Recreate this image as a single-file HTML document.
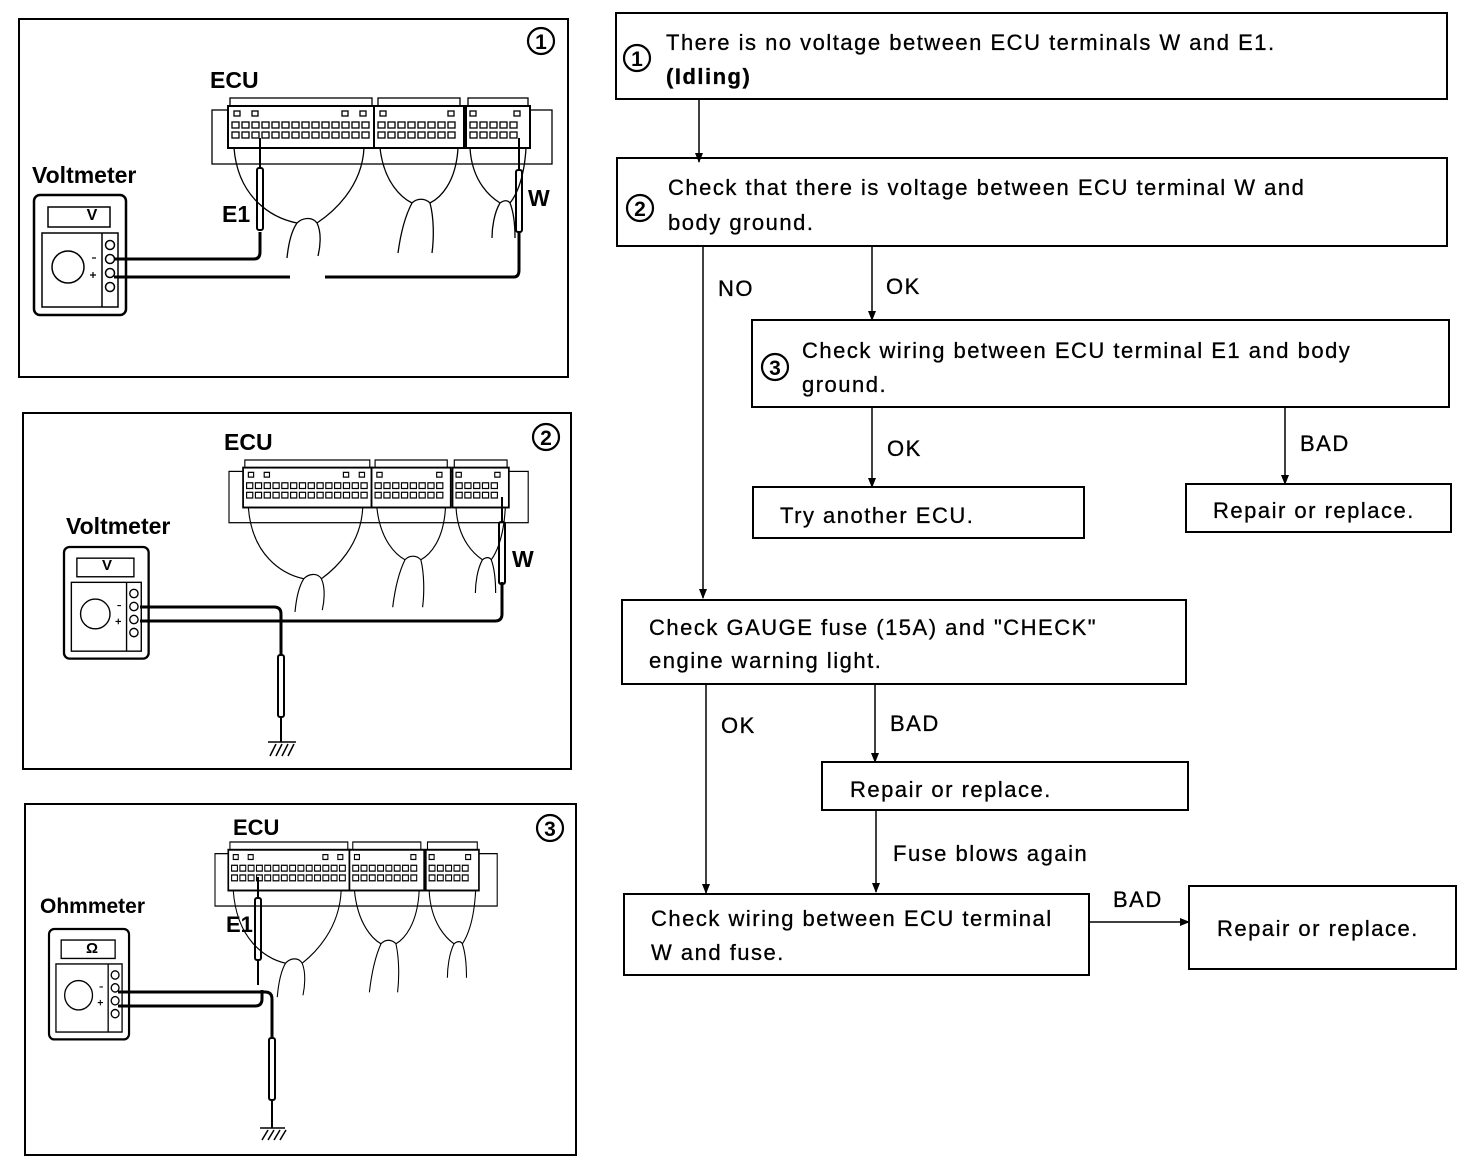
<!DOCTYPE html>
<html><head><meta charset="utf-8"><style>
html,body{margin:0;padding:0;background:#fff}
svg{display:block}
text{font-family:"Liberation Sans",sans-serif;fill:#000}
.t{font-size:22px;letter-spacing:1.5px;stroke:#000;stroke-width:0.3}
</style></head><body>
<svg width="1472" height="1172" viewBox="0 0 1472 1172" xmlns="http://www.w3.org/2000/svg">
<defs>
<marker id="ar" markerWidth="10" markerHeight="10" refX="9" refY="5" orient="auto" markerUnits="userSpaceOnUse">
<path d="M0,1 L10,5 L0,9 Z" fill="#000"/></marker>
<g id="pins">
<rect x="0" y="0" width="7" height="6" fill="none" stroke="#000" stroke-width="1.3"/>
</g>
<g id="ecu" fill="none" stroke="#000" stroke-width="1.3">
<rect x="0" y="12" width="340" height="54"/>
<rect x="18" y="0" width="142" height="8"/>
<rect x="166" y="0" width="82" height="8"/>
<rect x="256" y="0" width="60" height="8"/>
<rect x="16" y="8" width="146" height="42" fill="#fff" stroke-width="2"/>
<rect x="162" y="8" width="90" height="42" fill="#fff" stroke-width="2"/>
<rect x="254" y="8" width="64" height="42" fill="#fff" stroke-width="2"/>
<g>
<use href="#pins" x="20" y="24"/><use href="#pins" x="30" y="24"/><use href="#pins" x="40" y="24"/><use href="#pins" x="50" y="24"/><use href="#pins" x="60" y="24"/><use href="#pins" x="70" y="24"/><use href="#pins" x="80" y="24"/><use href="#pins" x="90" y="24"/><use href="#pins" x="100" y="24"/><use href="#pins" x="110" y="24"/><use href="#pins" x="120" y="24"/><use href="#pins" x="130" y="24"/><use href="#pins" x="140" y="24"/><use href="#pins" x="150" y="24"/>
<use href="#pins" x="20" y="34"/><use href="#pins" x="30" y="34"/><use href="#pins" x="40" y="34"/><use href="#pins" x="50" y="34"/><use href="#pins" x="60" y="34"/><use href="#pins" x="70" y="34"/><use href="#pins" x="80" y="34"/><use href="#pins" x="90" y="34"/><use href="#pins" x="100" y="34"/><use href="#pins" x="110" y="34"/><use href="#pins" x="120" y="34"/><use href="#pins" x="130" y="34"/><use href="#pins" x="140" y="34"/><use href="#pins" x="150" y="34"/>
<use href="#pins" x="166" y="24"/><use href="#pins" x="176" y="24"/><use href="#pins" x="186" y="24"/><use href="#pins" x="196" y="24"/><use href="#pins" x="206" y="24"/><use href="#pins" x="216" y="24"/><use href="#pins" x="226" y="24"/><use href="#pins" x="236" y="24"/>
<use href="#pins" x="166" y="34"/><use href="#pins" x="176" y="34"/><use href="#pins" x="186" y="34"/><use href="#pins" x="196" y="34"/><use href="#pins" x="206" y="34"/><use href="#pins" x="216" y="34"/><use href="#pins" x="226" y="34"/><use href="#pins" x="236" y="34"/>
<use href="#pins" x="258" y="24"/><use href="#pins" x="268" y="24"/><use href="#pins" x="278" y="24"/><use href="#pins" x="288" y="24"/><use href="#pins" x="298" y="24"/>
<use href="#pins" x="258" y="34"/><use href="#pins" x="268" y="34"/><use href="#pins" x="278" y="34"/><use href="#pins" x="288" y="34"/><use href="#pins" x="298" y="34"/>
<rect x="22" y="13" width="6" height="5"/><rect x="40" y="13" width="6" height="5"/><rect x="130" y="13" width="6" height="5"/><rect x="148" y="13" width="6" height="5"/>
<rect x="168" y="13" width="6" height="5"/><rect x="236" y="13" width="6" height="5"/><rect x="258" y="13" width="6" height="5"/><rect x="302" y="13" width="6" height="5"/>
</g>
<path d="M22,50 C26,100 60,120 85,125 M152,50 C150,90 120,115 105,125"/>
<path d="M168,50 C172,85 190,100 200,105 M246,50 C244,85 228,100 218,105"/>
<path d="M258,50 C260,85 280,100 288,105 M314,50 C312,85 302,100 298,105"/>
<path d="M85,125 C78,135 76,150 75,160 M105,125 C110,135 108,150 106,158"/>
<path d="M200,105 C192,120 188,140 186,155 M218,105 C222,120 222,140 220,155"/>
<path d="M288,105 C282,115 280,130 280,140 M298,105 C302,115 303,130 303,140"/>
<path d="M85,125 C90,120 100,118 105,125 M200,105 C205,100 213,100 218,105 M288,105 C292,102 296,102 298,105"/>
</g>
<g id="meter" fill="none" stroke="#000">
<rect x="0" y="0" width="92" height="120" rx="6" stroke-width="2.5"/>
<rect x="14" y="12" width="62" height="20" stroke-width="1.5"/>
<rect x="8" y="38" width="76" height="74" stroke-width="1.5"/>
<line x1="68" y1="38" x2="68" y2="112" stroke-width="1.5"/>
<circle cx="34" cy="72" r="16" stroke-width="1.5"/>
<circle cx="76" cy="50" r="4.5" stroke-width="1.5"/><circle cx="76" cy="64" r="4.5" stroke-width="1.5"/><circle cx="76" cy="78" r="4.5" stroke-width="1.5"/><circle cx="76" cy="92" r="4.5" stroke-width="1.5"/>
<line x1="58" y1="63" x2="62" y2="63" stroke-width="1.2"/>
<path d="M56,80 h6 M59,77 v6" stroke-width="1.2"/>
</g>
<g id="probe" fill="none" stroke="#000" stroke-width="2">
<rect x="-3" y="0" width="6" height="62" rx="2"/>
</g>
</defs>

<!-- Panel 1 -->
<rect x="19" y="19" width="549" height="358" fill="none" stroke="#000" stroke-width="2"/>
<circle cx="541" cy="41" r="13" fill="none" stroke="#000" stroke-width="2.2"/>
<text x="541" y="49" font-size="21" font-weight="bold" text-anchor="middle">1</text>
<text x="210" y="88" font-size="23" font-weight="bold">ECU</text>
<use href="#ecu" transform="translate(212,98)"/>
<text x="32" y="183" font-size="23" font-weight="bold">Voltmeter</text>
<use href="#meter" transform="translate(34,195)"/>
<text x="92" y="220" font-size="16" font-weight="bold" text-anchor="middle">V</text>
<line x1="260" y1="138" x2="260" y2="168" stroke="#000" stroke-width="2"/>
<use href="#probe" transform="translate(260,168)"/>
<text x="222" y="222" font-size="23" font-weight="bold">E1</text>
<path d="M114,259 H254 Q260,259 260,252 V232" fill="none" stroke="#000" stroke-width="3"/>
<path d="M114,277 H290 M325,277 H514 Q519,277 519,270 V232" fill="none" stroke="#000" stroke-width="3"/>
<line x1="519" y1="138" x2="519" y2="170" stroke="#000" stroke-width="2"/>
<use href="#probe" transform="translate(519,170)"/>
<text x="528" y="206" font-size="23" font-weight="bold">W</text>

<!-- Panel 2 -->
<rect x="23" y="413" width="548" height="356" fill="none" stroke="#000" stroke-width="2"/>
<circle cx="546" cy="437" r="13" fill="none" stroke="#000" stroke-width="2.2"/>
<text x="546" y="445" font-size="21" font-weight="bold" text-anchor="middle">2</text>
<text x="224" y="450" font-size="23" font-weight="bold">ECU</text>
<use href="#ecu" transform="translate(229,460) scale(0.88,0.95)"/>
<text x="66" y="534" font-size="23" font-weight="bold">Voltmeter</text>
<use href="#meter" transform="translate(64,547) scale(0.92,0.93)"/>
<text x="107" y="570" font-size="15" font-weight="bold" text-anchor="middle">V</text>
<path d="M140,607 H274 Q281,607 281,614 V655" fill="none" stroke="#000" stroke-width="3"/>
<use href="#probe" transform="translate(281,655)"/>
<path d="M281,717 V742" stroke="#000" stroke-width="2"/>
<path d="M268,742 H296 M270,756 L276,744 M276,756 L282,744 M282,756 L288,744 M288,756 L294,744" stroke="#000" stroke-width="1.5"/>
<path d="M140,621 H495 Q502,621 502,614 V582" fill="none" stroke="#000" stroke-width="3"/>
<line x1="502" y1="497" x2="502" y2="522" stroke="#000" stroke-width="2"/>
<use href="#probe" transform="translate(502,522)"/>
<text x="512" y="567" font-size="23" font-weight="bold">W</text>

<!-- Panel 3 -->
<rect x="25" y="804" width="551" height="351" fill="none" stroke="#000" stroke-width="2"/>
<circle cx="550" cy="828" r="13" fill="none" stroke="#000" stroke-width="2.2"/>
<text x="550" y="836" font-size="21" font-weight="bold" text-anchor="middle">3</text>
<text x="233" y="835" font-size="22" font-weight="bold">ECU</text>
<use href="#ecu" transform="translate(215,842) scale(0.83,0.97)"/>
<text x="40" y="913" font-size="21" font-weight="bold">Ohmmeter</text>
<use href="#meter" transform="translate(49,929) scale(0.87,0.92)"/>
<text x="92" y="953" font-size="15" font-weight="bold" text-anchor="middle">Ω</text>
<line x1="258" y1="877" x2="258" y2="898" stroke="#000" stroke-width="2"/>
<use href="#probe" transform="translate(258,898)"/>
<text x="226" y="932" font-size="22" font-weight="bold">E1</text>
<path d="M258,960 V985" stroke="#000" stroke-width="2"/>
<path d="M118,992 H265 Q272,992 272,999 V1038" fill="none" stroke="#000" stroke-width="3"/>
<path d="M118,1006 H255 Q262,1006 262,999 V990" fill="none" stroke="#000" stroke-width="3"/>
<use href="#probe" transform="translate(272,1038)"/>
<path d="M272,1100 V1128" stroke="#000" stroke-width="2"/>
<path d="M260,1128 H285 M262,1140 L268,1130 M268,1140 L274,1130 M274,1140 L280,1130 M280,1140 L286,1130" stroke="#000" stroke-width="1.5"/>

<!-- Flowchart -->
<g fill="none" stroke="#000" stroke-width="2">
<rect x="616" y="13" width="831" height="86"/>
<rect x="617" y="158" width="830" height="88"/>
<rect x="752" y="320" width="697" height="87"/>
<rect x="753" y="487" width="331" height="51"/>
<rect x="1186" y="484" width="265" height="48"/>
<rect x="622" y="600" width="564" height="84"/>
<rect x="822" y="762" width="366" height="48"/>
<rect x="624" y="894" width="465" height="81"/>
<rect x="1189" y="886" width="267" height="83"/>
<circle cx="637" cy="58" r="13" stroke-width="2.2"/><circle cx="640" cy="208" r="13" stroke-width="2.2"/><circle cx="775" cy="367" r="13" stroke-width="2.2"/>
</g>
<g stroke="#000" stroke-width="1.5" fill="none" marker-end="url(#ar)">
<line x1="699" y1="99" x2="699" y2="162"/>
<line x1="703" y1="246" x2="703" y2="598"/>
<line x1="872" y1="246" x2="872" y2="320"/>
<line x1="872" y1="407" x2="872" y2="487"/>
<line x1="1285" y1="407" x2="1285" y2="484"/>
<line x1="706" y1="684" x2="706" y2="893"/>
<line x1="875" y1="684" x2="875" y2="762"/>
<line x1="876" y1="810" x2="876" y2="892"/>
<line x1="1089" y1="922" x2="1189" y2="922"/>
</g>
<text x="637" y="66" font-size="21" font-weight="bold" text-anchor="middle">1</text>
<text x="640" y="216" font-size="21" font-weight="bold" text-anchor="middle">2</text>
<text x="775" y="375" font-size="21" font-weight="bold" text-anchor="middle">3</text>
<text class="t" x="666" y="50">There is no voltage between ECU terminals W and E1.</text>
<text class="t" x="666" y="84" font-weight="bold">(Idling)</text>
<text class="t" x="668" y="195">Check that there is voltage between ECU terminal W and</text>
<text class="t" x="668" y="230">body ground.</text>
<text class="t" x="718" y="296">NO</text>
<text class="t" x="886" y="294">OK</text>
<text class="t" x="802" y="358">Check wiring between ECU terminal E1 and body</text>
<text class="t" x="802" y="392">ground.</text>
<text class="t" x="887" y="456">OK</text>
<text class="t" x="1300" y="451">BAD</text>
<text class="t" x="780" y="523">Try another ECU.</text>
<text class="t" x="1213" y="518">Repair or replace.</text>
<text class="t" x="649" y="635">Check GAUGE fuse (15A) and "CHECK"</text>
<text class="t" x="649" y="668">engine warning light.</text>
<text class="t" x="721" y="733">OK</text>
<text class="t" x="890" y="731">BAD</text>
<text class="t" x="850" y="797">Repair or replace.</text>
<text class="t" x="893" y="861">Fuse blows again</text>
<text class="t" x="651" y="926">Check wiring between ECU terminal</text>
<text class="t" x="651" y="960">W and fuse.</text>
<text class="t" x="1113" y="907">BAD</text>
<text class="t" x="1217" y="936">Repair or replace.</text>
</svg>
</body></html>
